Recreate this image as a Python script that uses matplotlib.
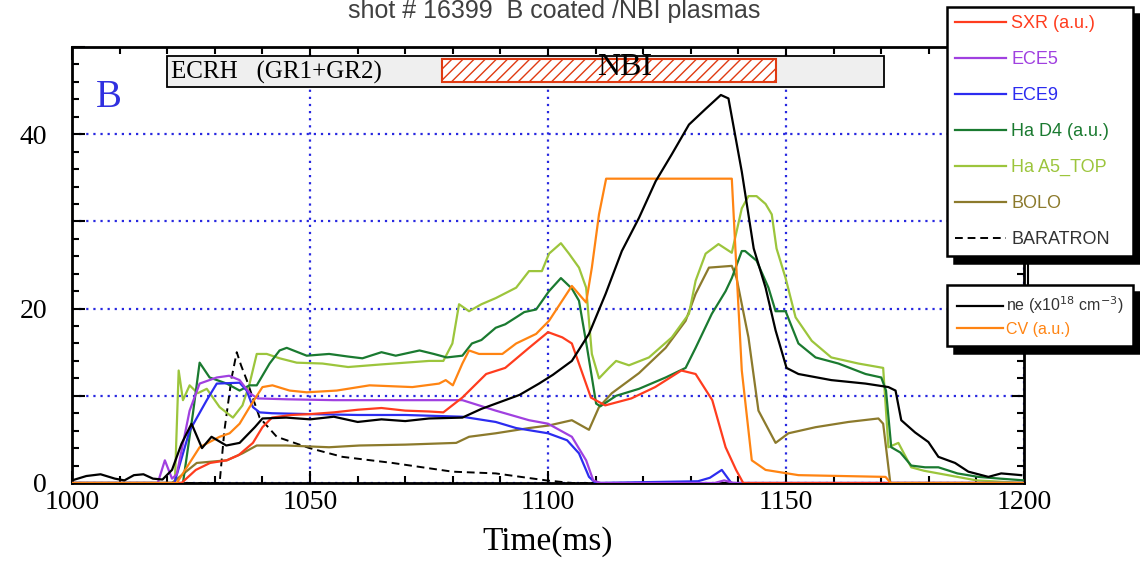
import matplotlib
matplotlib.use("Agg")
import matplotlib.pyplot as plt
from matplotlib.patches import Rectangle
from matplotlib.lines import Line2D
from matplotlib.ticker import MultipleLocator, FuncFormatter

# ---------------- data ----------------
t_sxr = [1000, 1023, 1026, 1029, 1032.5, 1035, 1038, 1040, 1042, 1046, 1050, 1055, 1060, 1065, 1070, 1075,
         1078, 1082, 1087, 1091, 1096, 1100, 1103, 1105, 1107, 1109, 1112, 1117.5, 1122.5, 1128, 1131, 1134.5,
         1137.3, 1139.5, 1141, 1200]
v_sxr = [0, 0, 1.5, 2.3, 2.6, 3.2, 4.6, 6.4, 7.5, 7.8, 7.9, 8.1, 8.4, 8.6, 8.3, 8.2,
         8.1, 9.8, 12.5, 13.2, 15.5, 17.3, 16.7, 16.0, 12.9, 9.8, 8.9, 9.7, 11.0, 12.9, 12.5, 9.5,
         4.1, 1.5, 0, 0]

t_ece5 = [1000, 1018, 1019.5, 1021, 1022, 1024.7, 1026.8, 1030.4, 1033, 1035.2, 1037.3, 1039, 1045, 1055,
          1065, 1075, 1082, 1089, 1096, 1100, 1105, 1108, 1109.5, 1111, 1135, 1137, 1139, 1200]
v_ece5 = [0, 0, 2.6, 0.5, 1, 8.3, 11.4, 12.1, 12.3, 11.8, 10.3, 9.7, 9.6, 9.5,
          9.5, 9.5, 9.5, 8.3, 7.2, 6.8, 5.3, 2.6, 0.3, 0, 0, 0.3, 0, 0]

t_ece9 = [1000, 1021.5, 1024.7, 1028.3, 1030.4, 1035.2, 1036.7, 1038, 1039.4, 1042, 1050, 1060, 1070, 1082,
          1089, 1093.3, 1100, 1104, 1106.5, 1108.6, 1110, 1131.5, 1134, 1136.5, 1138.5, 1200]
v_ece9 = [0, 0, 6, 9.5, 11.4, 11.5, 10.6, 8.7, 8.1, 8.0, 7.9, 7.8, 7.8, 7.6,
          7.0, 6.3, 5.7, 4.9, 3.4, 0.7, 0, 0.2, 0.6, 1.5, 0, 0]

t_had4 = [1000, 1023.3, 1025.4, 1026.8, 1028.9, 1032.5, 1035.2, 1037.3, 1038.8, 1041.5, 1043.6, 1045.1, 1049.3,
          1054, 1058, 1061, 1065, 1068, 1073, 1076, 1078.7, 1082, 1084, 1086, 1089, 1091, 1093.3, 1095, 1097.5,
          1100.2, 1102.7, 1105, 1106.5, 1108.2, 1110.1, 1111, 1114.3, 1119.1, 1124.7, 1128.9, 1131, 1134.4,
          1137.3, 1138.6, 1140.7, 1141.4, 1143.8, 1146.3, 1147.8, 1149.9, 1152.6, 1156.2, 1161, 1166.7, 1170,
          1171, 1172.1, 1174, 1176.3, 1179.2, 1182, 1186, 1190.4, 1195, 1200]
v_had4 = [0, 0, 8, 13.8, 12.1, 11.4, 10.6, 11.2, 11.2, 13.7, 15.2, 15.5, 14.6,
          14.8, 14.5, 14.3, 15.0, 14.6, 15.2, 14.8, 14.4, 14.6, 16.0, 16.4, 17.8, 18.2, 19.0, 19.6, 19.9,
          22.0, 23.5, 22.3, 20.9, 15.5, 9.1, 8.8, 10.0, 10.8, 12.1, 13.2, 15.5, 19.4,
          22.0, 23.5, 26.6, 26.6, 25.5, 22.4, 19.7, 19.7, 16.0, 14.4, 13.7, 12.5, 12.1,
          10.6, 4.1, 3.5, 2.0, 1.8, 1.8, 1.1, 0.7, 0.5, 0.3]

t_haa5 = [1000, 1021.6, 1022.4, 1023.3, 1024.7, 1026.4, 1028.3, 1031, 1033.8, 1035.8, 1037.3, 1038.8, 1040.9,
          1043.6, 1047.2, 1052.6, 1058, 1065, 1070, 1075, 1078, 1079.9, 1081.3, 1083.4, 1086, 1089, 1093.3,
          1096, 1098.7, 1100.2, 1102.7, 1104.4, 1106.5, 1108, 1109.2, 1110.7, 1112.8, 1114.3, 1117, 1121.2,
          1126, 1129.6, 1131, 1133.1, 1135.8, 1138.6, 1140.7, 1142.1, 1143.8, 1145.7, 1147, 1148, 1149.9,
          1152, 1155.4, 1159.5, 1165.2, 1170.4, 1171.5, 1173.6, 1176.3, 1179, 1186, 1190, 1200]
v_haa5 = [0, 0, 12.9, 9.5, 11.2, 10.3, 10.8, 8.7, 7.5, 8.9, 11.4, 14.8, 14.8,
          14.3, 13.8, 13.7, 13.3, 13.6, 13.8, 14.0, 14.0, 16.0, 20.5, 19.7, 20.5, 21.2, 22.4,
          24.3, 24.3, 26.3, 27.5, 26.3, 24.7, 22.4, 14.8, 12.0, 13.2, 14.0, 13.5, 14.4,
          16.7, 19.4, 23.2, 26.3, 27.4, 26.4, 31.5, 32.9, 32.9, 32.0, 30.8, 26.9, 23.5,
          19.0, 16.3, 14.4, 13.7, 13.2, 4.1, 4.6, 1.8, 1.4, 0.7, 0.3, 0]

t_bolo = [1000, 1021, 1026.2, 1028.3, 1032.5, 1035.8, 1038.8, 1045, 1054, 1060.4, 1070, 1080.7, 1083.4, 1089,
          1096, 1100.2, 1105, 1108.6, 1110.7, 1113.4, 1119.1, 1124.7, 1128.9, 1131, 1133.8, 1138.6, 1139.6,
          1142.1, 1144.2, 1147.8, 1150.5, 1156.2, 1163.1, 1169.4, 1170.4, 1171.9, 1200]
v_bolo = [0, 0, 2.3, 2.4, 2.6, 3.4, 4.3, 4.3, 4.1, 4.3, 4.4, 4.6, 5.3, 5.7,
          6.3, 6.6, 7.2, 6.1, 8.7, 10.3, 12.6, 15.5, 18.6, 21.7, 24.7, 24.9, 23.5,
          16.7, 8.3, 4.6, 5.7, 6.4, 7.0, 7.4, 6.8, 0, 0]

t_bara = [1000, 1031, 1032, 1033.5, 1034.6, 1035.5, 1036.7, 1039.4, 1043, 1049.9, 1056.8, 1067.3, 1079.9,
          1089, 1099.6, 1105, 1200]
v_bara = [0, 0, 6, 12, 15, 13.5, 11.8, 7.5, 5.3, 4.0, 3.0, 2.3, 1.3,
          1.1, 0.3, 0, 0]

t_ne = [1000, 1003, 1006, 1009, 1011, 1013, 1015, 1017, 1019, 1021, 1023, 1025.1, 1027.3, 1029.3, 1032.4,
        1035.2, 1038.4, 1040, 1045, 1050, 1055, 1060, 1065, 1070, 1075, 1082, 1086, 1090, 1094, 1098.1, 1101,
        1105, 1108.6, 1112.1, 1115.5, 1119.1, 1122.6, 1126, 1129.6, 1133.1, 1136.3, 1137.9, 1140.7, 1143.2,
        1145.7, 1147.8, 1150.1, 1152.6, 1159.5, 1166.7, 1171.5, 1173, 1174.2, 1177.1, 1179.9, 1182, 1185.5,
        1188.3, 1192.5, 1195.2, 1199.4]
v_ne = [0.3, 0.8, 1.0, 0.5, 0.3, 0.9, 1.0, 0.5, 0.4, 1.5, 4.5, 6.8, 4.0, 5.3, 4.3,
        4.6, 6.4, 7.4, 7.5, 7.3, 7.6, 7.0, 7.3, 7.1, 7.4, 7.5, 8.5, 9.3, 10.1, 11.4, 12.4,
        14.0, 17.1, 21.7, 26.6, 30.4, 34.6, 37.7, 41.1, 42.9, 44.5, 44.1, 35.7, 26.9,
        22.4, 17.5, 13.2, 12.5, 11.8, 11.4, 11.0, 10.6, 7.2, 5.8, 4.7, 3.0, 2.3,
        1.3, 0.7, 1.1, 0.9]

t_cv = [1000, 1022, 1026.8, 1031, 1033.1, 1035.2, 1037.3, 1040, 1042.1, 1045.7, 1049.3, 1055.6, 1062.5, 1071.5,
        1077.1, 1078.5, 1080, 1082, 1083.4, 1085.5, 1090.4, 1093.3, 1097.5, 1100.2, 1105, 1108, 1109.2, 1110.7,
        1112.2, 1138.6, 1139.6, 1140.7, 1142.8, 1145.7, 1152.6, 1170.9, 1172, 1200]
v_cv = [0, 0, 4.1, 5.3, 5.7, 6.8, 8.7, 11.0, 11.2, 10.6, 10.4, 10.6, 11.2, 11.0,
        11.4, 11.8, 11.2, 13.7, 15.2, 14.8, 14.8, 16.0, 17.1, 18.6, 22.6, 20.7, 24.7, 30.8,
        34.9, 34.9, 24.3, 12.9, 2.6, 1.5, 0.9, 0.7, 0, 0]

# heating windows (ms)
ecrh_window = [1020, 1170.5]
nbi_window = [1077.8, 1147.8]

# ---------------- figure ----------------
serif = "Liberation Serif"
sans = "Liberation Sans"

fig = plt.figure(figsize=(11.4, 5.63), dpi=100)
ax = fig.add_axes([0.0632, 0.1421, 0.8351, 0.7744])

lw = 1.6
ax.plot(t_bara, v_bara, color="black", lw=1.4, ls=(0, (4, 2.5)), label="BARATRON", zorder=3)
ax.plot(t_bolo, v_bolo, color="#8c7a2c", lw=lw, label="BOLO", zorder=3)
ax.plot(t_haa5, v_haa5, color="#9cc53c", lw=lw, label="Ha A5_TOP", zorder=3)
ax.plot(t_had4, v_had4, color="#1a7a30", lw=lw, label="Ha D4 (a.u.)", zorder=3)
ax.plot(t_ece9, v_ece9, color="#2c2cf0", lw=lw, label="ECE9", zorder=3)
ax.plot(t_ece5, v_ece5, color="#a040e0", lw=lw, label="ECE5", zorder=3)
ax.plot(t_sxr, v_sxr, color="#ff3c1e", lw=lw, label="SXR (a.u.)", zorder=3)
ax.plot(t_cv, v_cv, color="#ff8412", lw=lw, label="CV (a.u.)", zorder=3)
ax.plot(t_ne, v_ne, color="black", lw=lw, label="ne (x10$^{18}$ cm$^{-3}$)", zorder=4)

ax.set_xlim(1000, 1200)
ax.set_ylim(0, 50)

# ticks
ax.xaxis.set_major_locator(MultipleLocator(50))
ax.xaxis.set_minor_locator(MultipleLocator(10))
ax.yaxis.set_major_locator(MultipleLocator(10))
ax.yaxis.set_minor_locator(MultipleLocator(2))
ax.yaxis.set_major_formatter(FuncFormatter(lambda v, p: "%d" % v if v % 20 == 0 else ""))
ax.tick_params(which="both", direction="in", top=True, right=True, width=1.5)
ax.tick_params(which="major", length=9)
ax.tick_params(which="minor", length=5)
ax.tick_params(axis="x", which="major", pad=5)
ax.tick_params(axis="y", which="major", pad=18)
for lab in ax.get_xticklabels() + ax.get_yticklabels():
    lab.set_fontfamily(serif)
    lab.set_fontsize(20)
for sp in ax.spines.values():
    sp.set_linewidth(2)

# dotted blue grid
ax.grid(True, which="major", color="#2828e0", ls=(0, (1, 2.2)), lw=1.6)

ax.set_xlabel("Time(ms)", fontfamily=serif, fontsize=24, labelpad=8)

# heating bar on top
ax.add_patch(Rectangle((ecrh_window[0], 45.4), ecrh_window[1] - ecrh_window[0], 3.6,
                       facecolor="#efefef", edgecolor="black", lw=1.3, zorder=5))
ax.add_patch(Rectangle((nbi_window[0], 46.0), nbi_window[1] - nbi_window[0], 2.6,
                       facecolor="white", edgecolor="#e03a12", hatch="///", lw=1.5, zorder=6))
ax.text(1020.8, 47.1, "ECRH   (GR1+GR2)", fontfamily=serif, fontsize=18, va="center", ha="left", zorder=7)
ax.text(1116, 47.6, "NBI", fontfamily=serif, fontsize=23, va="center", ha="center", zorder=7)
ax.text(1005, 44.2, "B", fontfamily=serif, fontsize=28, color="#3030e0", va="center", ha="left", zorder=7)

# title
fig.text(0.486, 1 - 18 / 563, "shot # 16399  B coated /NBI plasmas", fontfamily=sans, fontsize=18,
         color="#404040", ha="center", va="baseline")

# legends
h, l = ax.get_legend_handles_labels()
order1 = ["SXR (a.u.)", "ECE5", "ECE9", "Ha D4 (a.u.)", "Ha A5_TOP", "BOLO", "BARATRON"]
order2 = ["ne (x10$^{18}$ cm$^{-3}$)", "CV (a.u.)"]
h1 = [h[l.index(k)] for k in order1]
h2 = [h[l.index(k)] for k in order2]
shadow = {"ox": 5, "oy": -5, "facecolor": "black", "edgecolor": "black", "alpha": 1}
leg_kw = dict(loc="upper left", mode="expand", fancybox=False, borderaxespad=0,
              labelcolor="linecolor", edgecolor="black", framealpha=1, shadow=shadow)
leg1 = fig.legend(h1, order1, bbox_to_anchor=(947 / 1140, 1 - 7 / 563, 186 / 1140, 0.0),
                  labelspacing=1.05, borderpad=0.45, handlelength=2.8, handletextpad=0.3,
                  prop={"family": sans, "size": 13}, **leg_kw)
leg2 = fig.legend(h2, order2, bbox_to_anchor=(947 / 1140, 1 - 285 / 563, 186 / 1140, 0.0),
                  labelspacing=0.35, borderpad=0.6, handlelength=2.9, handletextpad=0.2,
                  prop={"family": sans, "size": 11.5}, **leg_kw)
for lg in (leg1, leg2):
    lg.get_frame().set_linewidth(1.8)
for txt in leg1.get_texts()[-1:] + leg2.get_texts()[:1]:
    txt.set_color("#333333")

# small connector between the two legend boxes
fig.add_artist(Line2D([1028 / 1140, 1028 / 1140], [1 - 265 / 563, 1 - 285 / 563], color="black", lw=1.5))

fig.savefig("out.png", dpi=100)
